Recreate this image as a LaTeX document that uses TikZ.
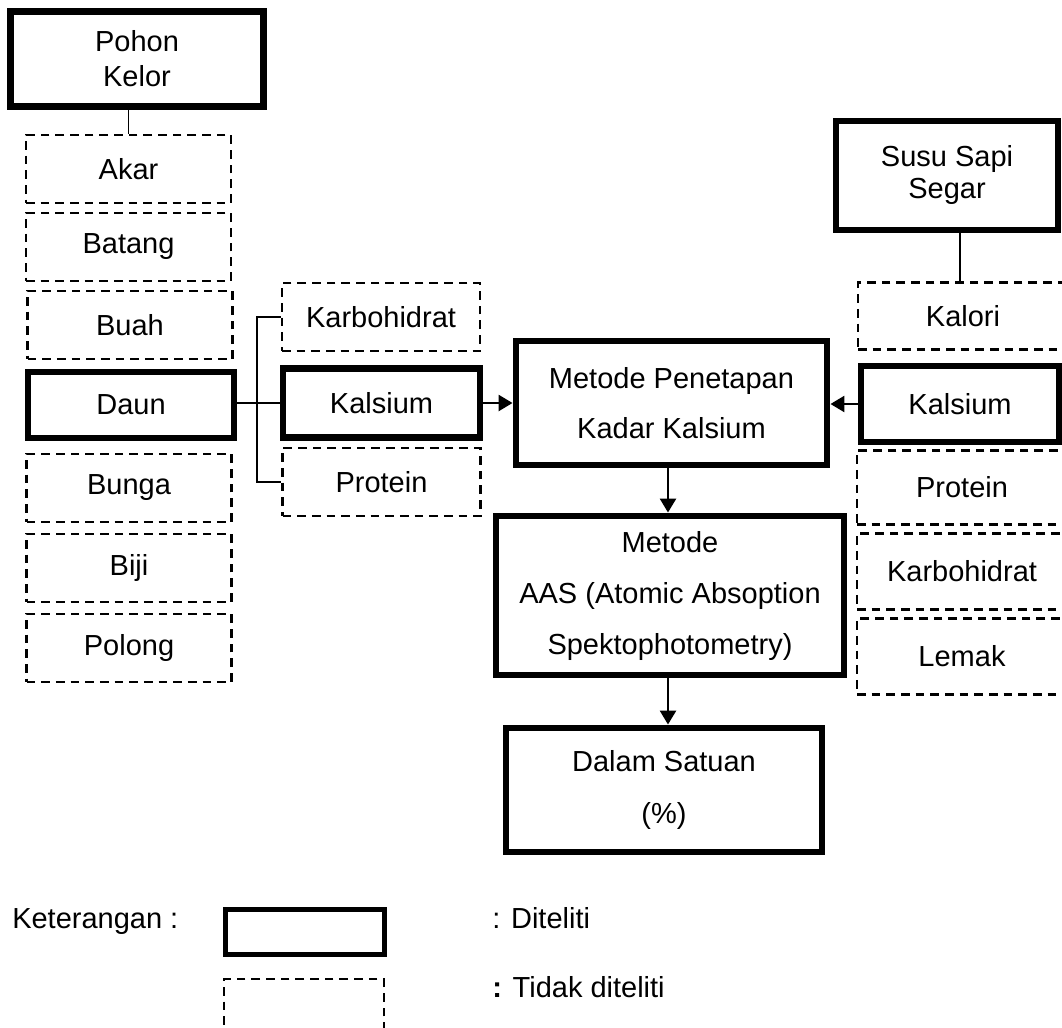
\documentclass[tikz,border=0pt]{standalone}
\usepackage{fontspec}
\setmainfont{Liberation Sans}
\usetikzlibrary{arrows.meta}
\begin{document}
\begin{tikzpicture}[x=0.75pt,y=-0.75pt,
  base/.style={rectangle, inner sep=0pt, align=center, font=\fontsize{21.75}{26}\selectfont},
  solidbox/.style={base, draw, line width=5.2pt},
  dashbox/.style={base, draw, line width=2.2pt, dash pattern=on 6.5pt off 4.5pt},
  leftcol/.style={dashbox, minimum width=153.75pt, minimum height=51pt},
  rightcol/.style={dashbox, minimum width=157.5pt, minimum height=57pt},
  conn/.style={line width=1.3pt},
  arr/.style={line width=2pt, -{Triangle[length=10.5pt,width=12pt]}},
  lbl/.style={inner sep=0pt, font=\fontsize{21.75}{26}\selectfont, anchor=base west},
]
\fill[white] (0,0) rectangle (1062,1027);
\useasboundingbox (0,0) rectangle (1062,1027);

% left column
\node[solidbox, minimum width=189.75pt, minimum height=71.25pt, font=\fontsize{21.75}{26.25}\selectfont] (pohon) at (137,59) {Pohon\\Kelor};
\node[leftcol] (akar) at (128.5,169) {Akar};
\node[leftcol] (batang) at (128.5,247) {Batang};
\node[leftcol] (buah) at (130,325) {Buah};
\node[solidbox, minimum width=154.5pt, minimum height=49.5pt] (daun) at (131,405) {Daun};
\node[leftcol] (bunga) at (129,488) {Bunga};
\node[leftcol] (biji) at (129,568) {Biji};
\node[leftcol] (polong) at (129,648) {Polong};

% middle-left column
\node[dashbox, minimum width=148.5pt, minimum height=51pt] (karbL) at (381,317) {Karbohidrat};
\node[solidbox, minimum width=147.75pt, minimum height=51.75pt] (kalL) at (381.5,403) {Kalsium};
\node[dashbox, minimum width=148.5pt, minimum height=51pt] (protL) at (381.5,482) {Protein};

% centre column
\node[solidbox, minimum width=233.25pt, minimum height=93pt, font=\fontsize{21.75}{37.5}\selectfont] (metode) at (671.5,403) {Metode Penetapan\\Kadar Kalsium};
\node[solidbox, minimum width=261pt, minimum height=119.25pt, font=\fontsize{21.75}{38.25}\selectfont] (aas) at (670,595.5) {Metode\\AAS (Atomic Absoption\\Spektophotometry)};
\node[solidbox, minimum width=237pt, minimum height=93pt, font=\fontsize{21.75}{39}\selectfont] (dalam) at (664,790) {Dalam Satuan\\(\%)};

% right column
\node[solidbox, minimum width=166.5pt, minimum height=81.75pt, font=\fontsize{21.75}{24}\selectfont] (susu) at (947,175.5) {Susu Sapi\\Segar};
\node[dashbox, minimum width=157.5pt, minimum height=50.25pt] (kalori) at (963,316) {Kalori};
\node[solidbox, minimum width=148.5pt, minimum height=57pt] (kalR) at (960,404) {Kalsium};
\node[rightcol, minimum height=55.5pt] (protR) at (962,487.5) {Protein};
\node[rightcol] (karbR) at (962,571.5) {Karbohidrat};
\node[rightcol] (lemak) at (962,656.5) {Lemak};

% connectors
\draw[conn] (akar.north) -- (akar.north |- pohon.south);
\draw[conn] (daun.east |- kalL.west) -- (kalL.west);
\coordinate (bx) at (257,400);
\draw[conn] (karbL.west) -| (bx |- protL.west) -- (protL.west);
\draw[conn] (susu.south -| 960,0) -- (kalori.north -| 960,0);

% arrows
\draw[arr] (kalL.east) -- (metode.west |- kalL.east);
\draw[arr] (kalR.west) -- (metode.east |- kalR.west);
\draw[arr] (metode.south -| 668,0) -- (aas.north -| 668,0);
\draw[arr] (aas.south -| 668,0) -- (dalam.north -| 668,0);

% legend
\node[lbl] (ket) at (12,928) {Keterangan :};
\node[base, draw, line width=3.75pt, minimum width=119.25pt, minimum height=33.75pt] (leg1) at (305,932) {};
\node[dashbox, minimum width=120pt, minimum height=51pt] (leg2) at (304,1013) {};
\node[lbl] (legt1) at (492,928) {: Diteliti};
\node[lbl] (legt2) at (492,997) {{\bfseries :} Tidak diteliti};
\end{tikzpicture}
\end{document}
